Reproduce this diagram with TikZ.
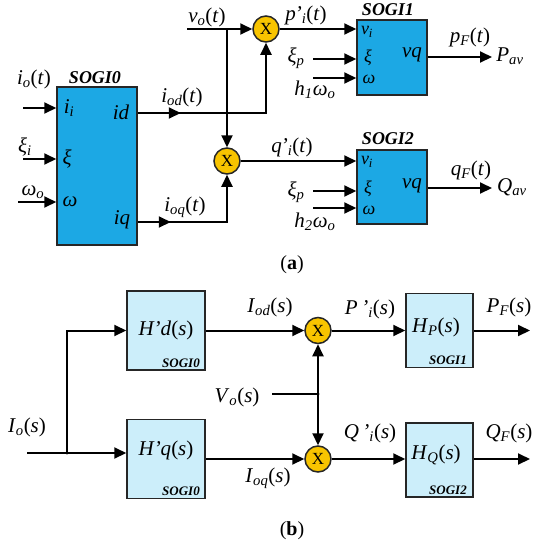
\documentclass[tikz,border=0pt]{standalone}
\usepackage{fontspec}
\setmainfont{Liberation Serif}
\usetikzlibrary{arrows.meta,decorations.markings}
\definecolor{sogiblue}{RGB}{28,168,228}
\definecolor{hblue}{RGB}{204,238,250}
\definecolor{multgold}{RGB}{248,196,0}
\newcommand{\sbs}[2]{\textit{#1}\textsubscript{\textit{#2}}}
\tikzset{
  blk/.tip={Triangle[length=12pt,width=11pt]},
  arr/.style={-blk},
  wire/.style={line width=2pt},
  thinwire/.style={line width=1.2pt},
  midarr/.style={postaction={decorate,decoration={markings,
      mark=at position #1 with {\arrow{blk}}}}},
  sogi/.style={draw=black!85,fill=sogiblue,line width=1.5pt,inner sep=0pt},
  hbox/.style={draw=black!85,fill=hblue,line width=1.5pt,inner sep=0pt},
  mult/.style={circle,draw=black!85,fill=multgold,line width=1.5pt,
    minimum size=26pt,inner sep=0pt,font=\fontsize{17}{17}\selectfont},
  lbl/.style={inner sep=0pt,font=\fontsize{21}{21}\selectfont},
  pinlbl/.style={inner sep=0pt,font=\fontsize{21}{21}\selectfont\itshape},
  smallpin/.style={inner sep=0pt,font=\fontsize{18}{18}\selectfont\itshape},
  title/.style={inner sep=0pt,font=\fontsize{18}{18}\selectfont\bfseries\itshape},
  tag/.style={inner sep=0pt,font=\fontsize{13}{13}\selectfont\bfseries\itshape},
  subcap/.style={inner sep=0pt,font=\fontsize{20}{20}\selectfont}
}
\begin{document}
\begin{tikzpicture}[x=1pt,y=-1pt]
	\useasboundingbox (0,0) rectangle (538,550);
	% (a) time domain
	\node[sogi,minimum width=80pt,minimum height=158pt] (sogi0) at (97,166) {};
	\node[sogi,minimum width=70pt,minimum height=75pt] (sogi1) at (392,57.5) {};
	\node[sogi,minimum width=70pt,minimum height=74pt] (sogi2) at (392,187) {};
	\node[mult] (m1) at (266,29) {X};
	\node[mult] (m2) at (227,161) {X};
	\node[title] (t0) at (95,78) {SOGI0};
	\node[title] (t1) at (388,10) {SOGI1};
	\node[title] (t2) at (388,139) {SOGI2};
	% block pins
	\node[pinlbl] (pii) at (69,108) {i\textsubscript{i}};
	\node[pinlbl] (pxi) at (67,159) {ξ};
	\node[pinlbl] (pw) at (70,202) {ω};
	\node[pinlbl] (pid) at (121,112) {id};
	\node[pinlbl] (piq) at (122,220) {iq};
	\node[smallpin] (p1v) at (367,32) {v\textsubscript{i}};
	\node[smallpin] (p1x) at (368,58) {ξ};
	\node[smallpin] (p1w) at (369,79) {ω};
	\node[pinlbl] (p1q) at (412,55) {vq};
	\node[smallpin] (p2v) at (367,162) {v\textsubscript{i}};
	\node[smallpin] (p2x) at (368,189) {ξ};
	\node[smallpin] (p2w) at (369,210) {ω};
	\node[pinlbl] (p2q) at (412,186) {vq};
	% signal labels
	\node[lbl] (lio) at (34,79) {\sbs{i}{o}(\textit{t})};
	\node[lbl] (lxi) at (25,147) {\sbs{ξ}{i}};
	\node[lbl] (lwo) at (33,192) {\sbs{ω}{o}};
	\node[lbl] (liod) at (182,97) {\sbs{i}{od}(\textit{t})};
	\node[lbl] (lvo) at (207,17) {\sbs{v}{o}(\textit{t})};
	\node[lbl] (lioq) at (185,207) {\sbs{i}{oq}(\textit{t})};
	\node[lbl] (lpi) at (306,15) {\sbs{p\kern-1pt'}{i}(\textit{t})};
	\node[lbl] (lqi) at (292,147) {\sbs{q\kern-1pt'}{i}(\textit{t})};
	\node[lbl] (lxp1) at (296,58) {\sbs{ξ}{p}};
	\node[lbl] (lxp2) at (296,192) {\sbs{ξ}{p}};
	\node[lbl] (lh1) at (315,90) {\sbs{h}{1}\sbs{ω}{o}};
	\node[lbl] (lh2) at (315,222) {\sbs{h}{2}\sbs{ω}{o}};
	\node[lbl] (lpf) at (470,37) {\sbs{p}{F}(\textit{t})};
	\node[lbl] (lqf) at (471,170) {\sbs{q}{F}(\textit{t})};
	\node[lbl] (lpav) at (510,56) {\sbs{P}{av}};
	\node[lbl] (lqav) at (512,187) {\sbs{Q}{av}};
	% free ends
	\coordinate (cio) at (23,108);
	\coordinate (cxi) at (23,159);
	\coordinate (cwo) at (18,202);
	\coordinate (cvo) at (187,29);
	\coordinate (cvb) at (227,29);
	\coordinate (cx1) at (313,59);
	\coordinate (cw1) at (313,78);
	\coordinate (cx2) at (313,191);
	\coordinate (cw2) at (313,208);
	\coordinate (cpav) at (492,57);
	\coordinate (cqav) at (492,188);
	% connectors
	\draw[wire,arr] (cio) -- (cio -| sogi0.west);
	\draw[wire,arr] (cxi) -- (cxi -| sogi0.west);
	\draw[wire,arr] (cwo) -- (cwo -| sogi0.west);
	\draw[wire,arr,midarr=43pt] (sogi0.east |- 0,113) -| (m1);
	\draw[wire,arr,midarr=33pt] (sogi0.east |- 0,222) -| (m2);
	\draw[wire,arr] (cvo) -- (m1);
	\draw[wire,arr] (cvb) -- (m2);
	\draw[wire,arr] (m1) -- (m1 -| sogi1.west);
	\draw[wire,arr] (m2) -- (m2 -| sogi2.west);
	\draw[wire,arr] (cx1) -- (cx1 -| sogi1.west);
	\draw[wire,arr] (cw1) -- (cw1 -| sogi1.west);
	\draw[wire,arr] (cx2) -- (cx2 -| sogi2.west);
	\draw[wire,arr] (cw2) -- (cw2 -| sogi2.west);
	\draw[wire,arr] (sogi1.east |- cpav) -- (cpav);
	\draw[wire,arr] (sogi2.east |- cqav) -- (cqav);
	\node[subcap] (capa) at (292,265) {(\textbf{a})};
	% (b) Laplace domain
	\node[hbox,minimum width=78pt,minimum height=79pt] (hd) at (166,330.5) {};
	\node[hbox,minimum width=78pt,minimum height=79pt] (hq) at (166,459) {};
	\node[hbox,minimum width=67pt,minimum height=74pt] (hp) at (439.5,330.5) {};
	\node[hbox,minimum width=67pt,minimum height=74pt] (hqq) at (439.5,460) {};
	\node[mult] (m3) at (318,330.5) {X};
	\node[mult] (m4) at (318,459) {X};
	\node[lbl] (lhd) at (166,330) {\textit{H’d}(\textit{s})};
	\node[lbl] (lhq) at (166,450) {\textit{H’q}(\textit{s})};
	\node[lbl] (lhp) at (436,327) {\sbs{H}{P}(\textit{s})};
	\node[lbl] (lhqq) at (436,455) {\sbs{H}{Q}(\textit{s})};
	\node[tag] (g0a) at (181,363) {SOGI0};
	\node[tag] (g0b) at (181,491) {SOGI0};
	\node[tag] (g1) at (448,360) {SOGI1};
	\node[tag] (g2) at (448,490) {SOGI2};
	\node[lbl] (lIo) at (27,427) {\sbs{I}{o}(\textit{s})};
	\node[lbl] (lIod) at (270,307) {\sbs{I}{od}(\textit{s})};
	\node[lbl] (lIoq) at (268,478) {\sbs{I}{oq}(\textit{s})};
	\node[lbl] (lVo) at (237,397) {\sbs{V}{o}(\textit{s})};
	\node[lbl] (lPi) at (370,309) {\sbs{P\,’}{i}(\textit{s})};
	\node[lbl] (lQi) at (370,433) {\sbs{Q\,’}{i}(\textit{s})};
	\node[lbl] (lPF) at (509,307) {\sbs{P}{F}(\textit{s})};
	\node[lbl] (lQF) at (509,433) {\sbs{Q}{F}(\textit{s})};
	\coordinate (cIs) at (27,453);
	\coordinate (cbr) at (67,453);
	\coordinate (cVs) at (272,394);
	\coordinate (cVj) at (318,394);
	\coordinate (cPF) at (530,330.5);
	\coordinate (cQF) at (530,459);
	\draw[wire,arr] (cIs) -- (cIs -| hq.west);
	\draw[wire,arr] (cbr) |- (hd.west);
	\fill (cbr) circle (1.6pt);
	\draw[wire,arr] (hd) -- (m3);
	\draw[wire,arr] (hq) -- (m4);
	\draw[thinwire] (cVs) -- (cVj);
	\fill (cVj) circle (1.6pt);
	\draw[wire,arr] (cVj) -- (m3);
	\draw[wire,arr] (cVj) -- (m4);
	\draw[wire,arr] (m3) -- (hp);
	\draw[wire,arr] (m4) -- (m4 -| hqq.west);
	\draw[wire,arr] (hp) -- (cPF);
	\draw[wire,arr] (hqq.east |- cQF) -- (cQF);
	\node[subcap] (capb) at (292,531) {(\textbf{b})};
\end{tikzpicture}
\end{document}
